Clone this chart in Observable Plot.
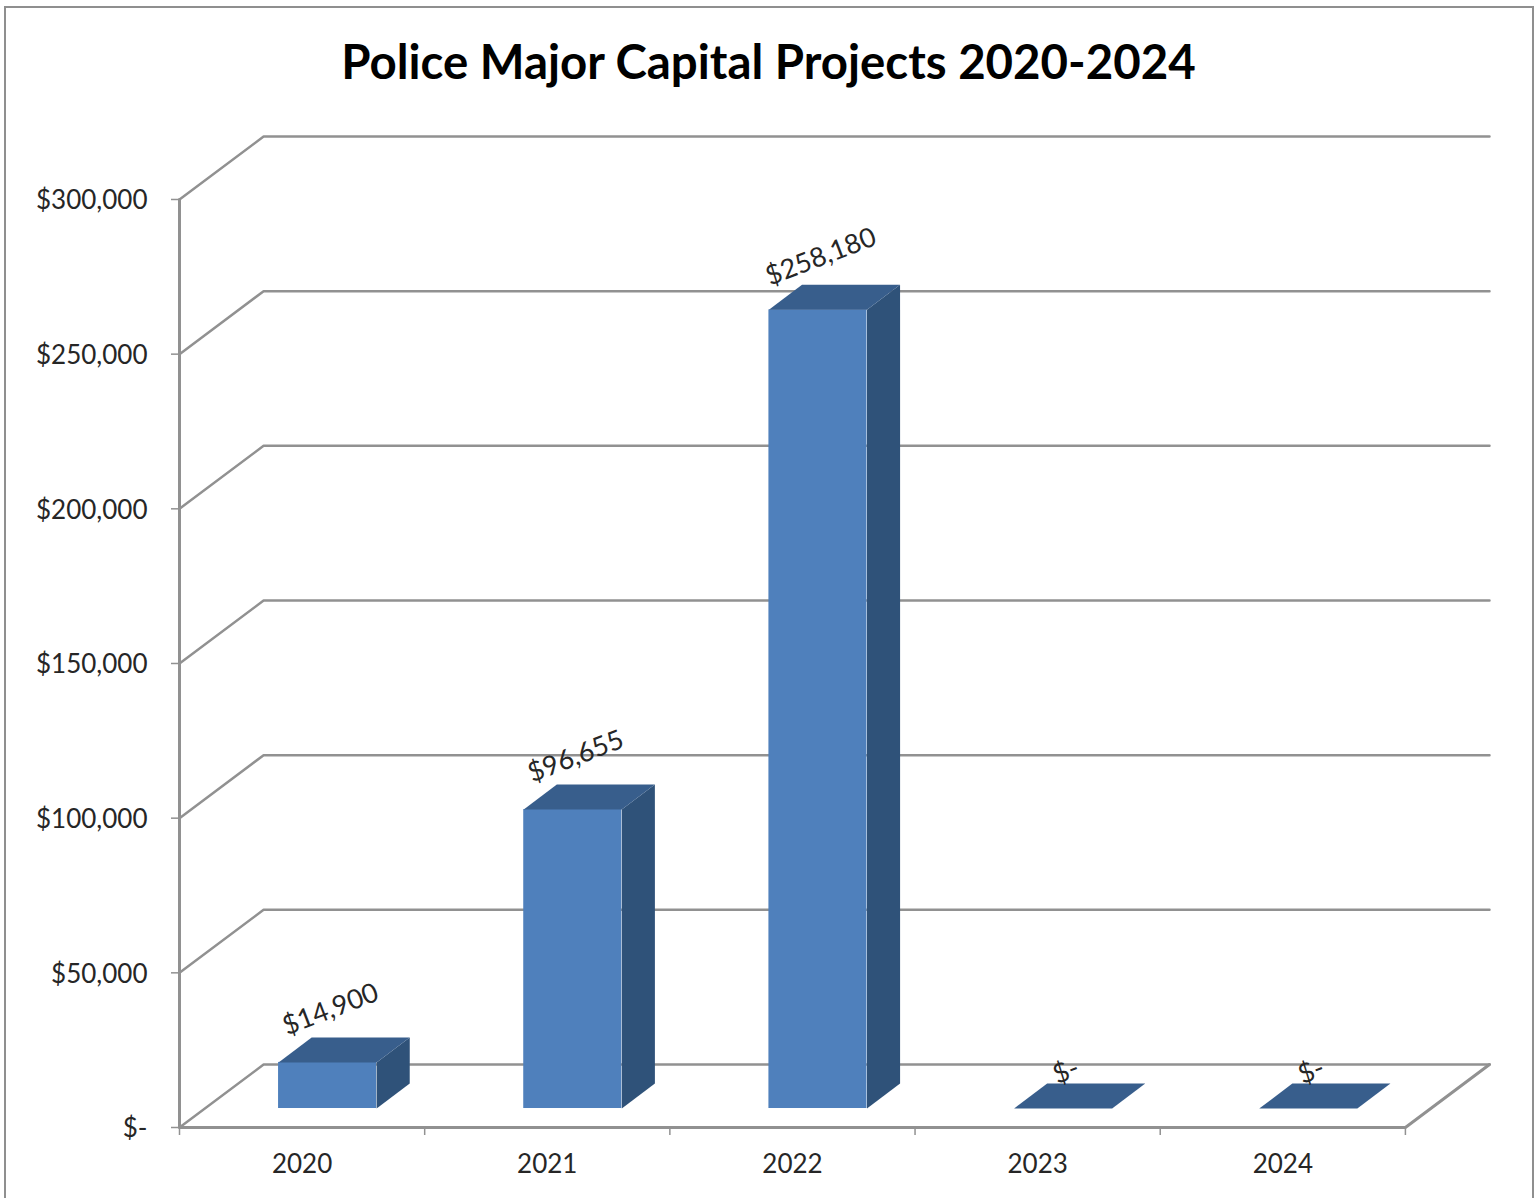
<!DOCTYPE html>
<html>
<head>
<meta charset="utf-8">
<script src="https://cdn.jsdelivr.net/npm/d3@7"></script>
<script src="https://cdn.jsdelivr.net/npm/@observablehq/plot@0.6"></script>
<style>
  html, body { margin: 0; padding: 0; background: #fff; overflow: hidden; }
  #page { position: relative; width: 1539px; height: 1198px; overflow: hidden; }
  #frame { position: absolute; left: 4px; top: 6px; width: 1530px; height: 1240px; border: 2px solid #8f8f8f; box-sizing: border-box; pointer-events: none; }
  #title { height: 100px; padding-top: 23px; box-sizing: border-box; text-align: center; font: 700 47.4px/78px Lato, sans-serif; color: #000; position: relative; left: -1px; top: -1px; }
  svg { display: block; }
</style>
</head>
<body>
<div id="page">
  <div id="frame"></div>
  <div id="title">Police Major Capital Projects 2020-2024</div>
  <div id="chart"></div>
</div>
<script>
const years = ["2020", "2021", "2022", "2023", "2024"];
const amounts = [14900, 96655, 258180, 0, 0];
const valueTicks = [0, 50000, 100000, 150000, 200000, 250000, 300000];

// Pseudo-3D geometry, in data units
const wallDepthX = 0.343;
const wallDepthY = 20360;
const barStart = 0.404;
const barWidth = 0.4;
const barBase = 6140;
const barDepthX = 0.135;
const barDepthY = 8080;

const money = v => v === 0 ? "$-" : d3.format("$,")(v);

const bars = years.map((year, i) => ({
  year, amount: amounts[i],
  x1: i + barStart, x2: i + barStart + barWidth,
  y1: barBase, y2: barBase + amounts[i]
}));

const gridLines = valueTicks.flatMap(v => [
  {v, x: 0, y: v},
  {v, x: wallDepthX, y: v + wallDepthY},
  {v, x: years.length + wallDepthX, y: v + wallDepthY}
]);

const floorEdge = [
  {x: 0, y: 300000}, {x: 0, y: 0}, {x: years.length, y: 0}, {x: years.length + wallDepthX, y: wallDepthY}
];

const topFaces = bars.flatMap(b => [
  {id: b.year, x: b.x1, y: b.y2},
  {id: b.year, x: b.x2, y: b.y2},
  {id: b.year, x: b.x2 + barDepthX, y: b.y2 + barDepthY},
  {id: b.year, x: b.x1 + barDepthX, y: b.y2 + barDepthY}
]);

const sideFaces = bars.filter(b => b.amount > 0).flatMap(b => [
  {id: b.year, x: b.x2, y: b.y1},
  {id: b.year, x: b.x2 + barDepthX, y: b.y1 + barDepthY},
  {id: b.year, x: b.x2 + barDepthX, y: b.y2 + barDepthY},
  {id: b.year, x: b.x2, y: b.y2}
]);

const gridColor = "#919191";
const textColor = "#262626";
const labelFont = {fontSize: 27, fill: textColor, rotate: -21};

const chart = Plot.plot({
  width: 1539,
  height: 1098,
  marginTop: 36,
  marginBottom: 71,
  marginLeft: 179,
  marginRight: 50,
  style: {fontFamily: "Lato, sans-serif", fontSize: "26px", background: "transparent", overflow: "visible"},
  x: {type: "linear", domain: [0, years.length + wallDepthX]},
  y: {type: "linear", domain: [0, 300000 + wallDepthY]},
  marks: [
    Plot.line(gridLines, {x: "x", y: "y", z: "v", stroke: gridColor, strokeWidth: 2.5, curve: "linear"}),
    Plot.line(floorEdge, {x: "x", y: "y", stroke: gridColor, strokeWidth: 3, curve: "linear"}),
    Plot.axisY({
      ticks: valueTicks, tickFormat: () => "", tickSize: 8,
      stroke: gridColor, strokeWidth: 1.5, label: null
    }),
    Plot.axisY({
      ticks: valueTicks, tickFormat: money, tickSize: 0, tickPadding: 32, dy: 1.5,
      fill: textColor, fontSize: 26, label: null
    }),
    Plot.axisX({
      ticks: d3.range(years.length + 1), tickFormat: () => "", tickSize: 8,
      stroke: gridColor, strokeWidth: 1.5, label: null
    }),
    Plot.axisX({
      ticks: years.map((_, i) => i + 0.5), tickFormat: v => years[v - 0.5], tickSize: 0, tickPadding: 27,
      fill: textColor, fontSize: 26, label: null
    }),
    Plot.rect(bars, {x1: "x1", x2: "x2", y1: "y1", y2: "y2", fill: "#4f80bc"}),
    Plot.line(sideFaces, {x: "x", y: "y", z: "id", fill: "#2f5279", stroke: "none", curve: "linear"}),
    Plot.line(topFaces, {x: "x", y: "y", z: "id", fill: "#385e8c", stroke: "none", curve: "linear"}),
    Plot.text(bars.filter(b => b.amount > 0), {
      x: b => (b.x1 + b.x2) / 2, y: "y2", text: b => money(b.amount), dx: 3, dy: -53, ...labelFont
    }),
    Plot.text(bars.filter(b => b.amount === 0), {
      x: b => (b.x1 + b.x2) / 2, y: "y2", text: b => money(b.amount), dx: 3, dy: -37, ...labelFont
    })
  ]
});
document.getElementById("chart").appendChild(chart);
</script>
</body>
</html>
